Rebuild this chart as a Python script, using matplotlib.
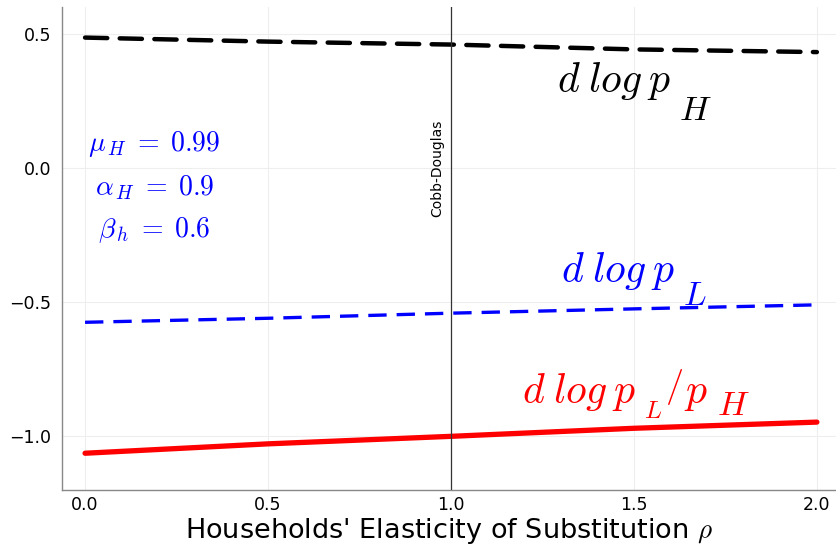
import matplotlib
matplotlib.use("Agg")
import matplotlib.pyplot as plt
import numpy as np

plt.rcParams['mathtext.fontset'] = 'cm'

rho = [0.0, 0.5, 1.0, 1.5, 2.0]
dlog_pH = [0.486, 0.471, 0.460, 0.442, 0.432]
dlog_pL = [-0.575, -0.560, -0.541, -0.525, -0.510]
dlog_ratio = [-1.063, -1.028, -1.000, -0.970, -0.947]

xticks = [0.0, 0.5, 1.0, 1.5, 2.0]
yticks = [-1.0, -0.5, 0.0, 0.5]

W, H = 837, 544
fig = plt.figure(figsize=(W / 100, H / 100), dpi=100)
ax = fig.add_axes([62 / W, 1 - 490 / H, 1 - 62 / W, (490 - 7) / H])

ax.plot(rho, dlog_pH, color='black', lw=3.2, ls=(0, (5, 2.8)), solid_capstyle='round', dash_capstyle='round')
ax.plot(rho, dlog_pL, color='blue', lw=2.4, ls=(0, (5.5, 3.0)))
ax.plot(rho, dlog_ratio, color='red', lw=3.8, solid_capstyle='round')
ax.axvline(1.0, color='#333333', lw=0.9)

ax.set_xlim(-0.063, 2.055)
ax.set_ylim(-1.2, 0.6)
ax.set_xticks(xticks)
ax.set_xticklabels([f"{t:.1f}" for t in xticks])
ax.set_yticks(yticks)
ax.set_yticklabels(["\u22121.0", "\u22120.5", "0.0", "0.5"])
ax.tick_params(axis='y', labelsize=12.5, length=0, pad=8)
ax.tick_params(axis='x', labelsize=12.5, length=0, pad=4)
ax.grid(True, color='#eeeeee', lw=0.8)
for s in ['top', 'right']:
    ax.spines[s].set_visible(False)
for s in ['left', 'bottom']:
    ax.spines[s].set_color('#888888')
    ax.spines[s].set_linewidth(1.0)

fig.text(449 / W, 1 - 537.5 / H, r"Households' Elasticity of Substitution $\rho$", fontsize=19.5,
         ha='center', va='baseline')


def fpos(px, py):
    return px / W, 1 - py / H


def piece(px, py, s, color, size=30, va='baseline'):
    x, y = fpos(px, py)
    fig.text(x, y, s, color=color, fontsize=size, ha='left', va=va)


def dlogp(x0, base, color, sub, sub_drop, sub_size):
    piece(x0, base, r"$d$", color)
    piece(x0 + 31, base, r"$log$", color)
    piece(x0 + 90, base, r"$p$", color)
    piece(x0 + 122, base + sub_drop, "$" + sub + "$", color, sub_size)


# black label
dlogp(557, 92, 'black', 'H', 28, 25)
# blue label
dlogp(561, 282, 'blue', 'L', 23, 24)
# red label
dlogp(522, 403, 'red', 'L', 15, 18)
piece(665, 387, r"$/$", 'red', 26, va='center')
piece(684, 403, r"$p$", 'red')
piece(717, 415, r"$H$", 'red', 25)

ax.text(0.19, 0.09, r"$\mu_{\,H} \;=\; 0.99$", color='blue', fontsize=20, ha='center', va='center')
ax.text(0.19, -0.075, r"$\alpha_{\,H} \;=\; 0.9$", color='blue', fontsize=20, ha='center', va='center')
ax.text(0.19, -0.23, r"$\beta_{\,h} \;=\; 0.6$", color='blue', fontsize=20, ha='center', va='center')

ax.text(0.962, 0.0, "Cobb-Douglas", rotation=90, fontsize=10, ha='center', va='center', color='black')

fig.savefig("out.png", dpi=100)
